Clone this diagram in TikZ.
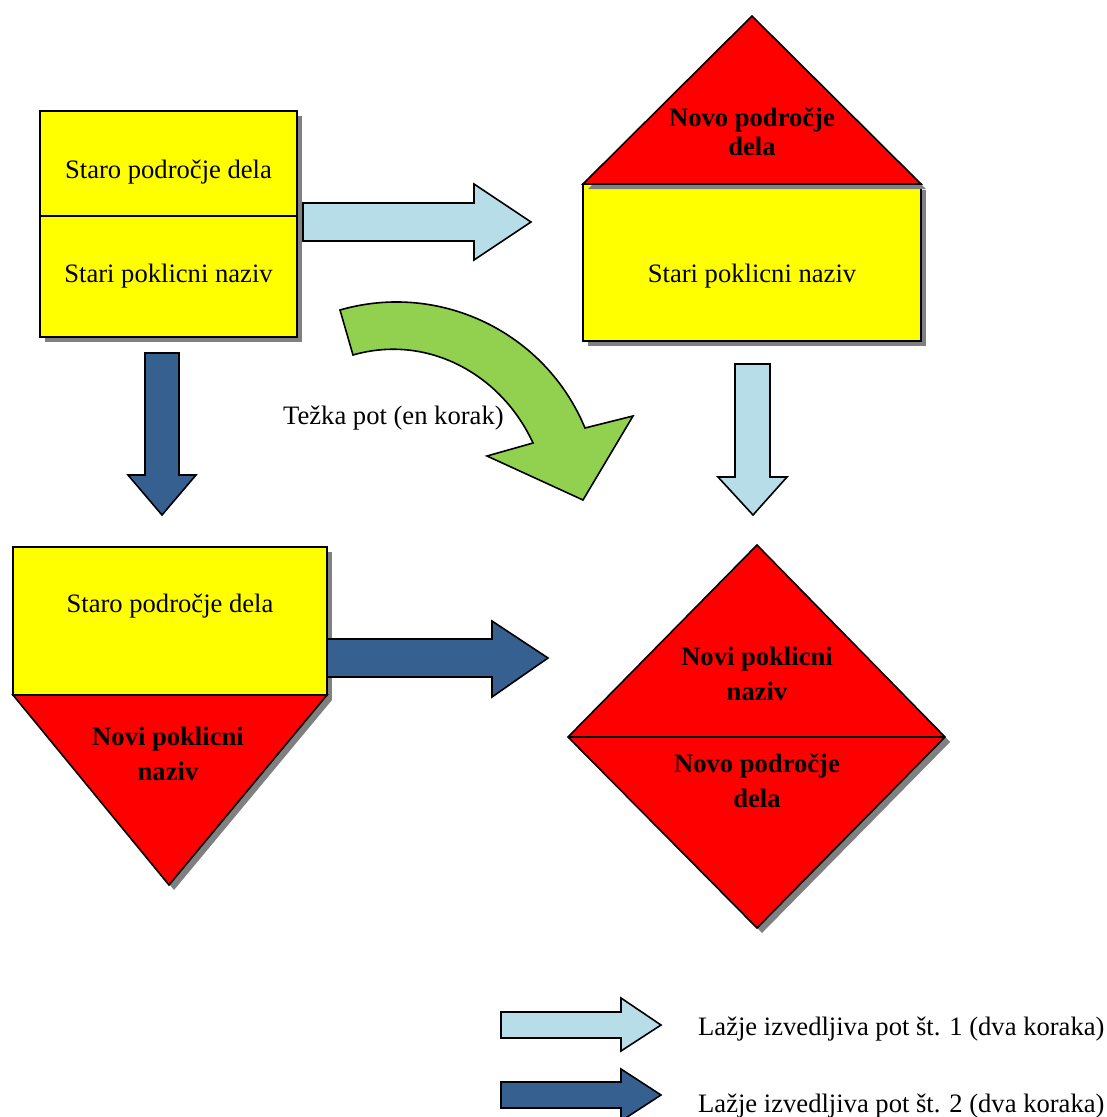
\documentclass[tikz,border=0pt]{standalone}
\usepackage{fontspec}
\setmainfont{Liberation Serif}
\definecolor{ylw}{HTML}{FFFF00}
\definecolor{rd}{HTML}{FF0000}
\definecolor{lblue}{HTML}{B7DDE8}
\definecolor{dblue}{HTML}{36608F}
\definecolor{grn}{HTML}{92D050}
\definecolor{shadowgray}{HTML}{808080}
\begin{document}
\begin{tikzpicture}[x=1pt,y=-1pt,
  shapest/.style={draw=black,line width=1.6pt,line join=miter},
  arrowst/.style={draw=black,line width=1.6pt,line join=miter},
  shd/.style={fill=shadowgray},
  lbl/.style={anchor=base,inner sep=0pt,font=\fontsize{26.6}{30}\selectfont},
  blbl/.style={anchor=base,inner sep=0pt,font=\fontsize{26.6}{30}\selectfont\bfseries}]
\useasboundingbox (0,0) rectangle (1107,1117);
\fill[white] (0,0) rectangle (1107,1117);

% Box 1 (top left)
\fill[shd] (45,116) rectangle (302,342);
\draw[shapest,fill=ylw] (40,111) rectangle (297,337);
\draw[shapest] (40,216) -- (297,216);
\node[lbl] (b1a) at (168.5,178) {Staro področje dela};
\node[lbl] (b1b) at (168.5,282) {Stari poklicni naziv};

% light blue arrow right (top)
\draw[arrowst,fill=lblue] (303,203) -- (474,203) -- (474,184) -- (531,222) -- (474,260) -- (474,241) -- (303,241) -- cycle;

% Box 2 (top right)
\fill[shd] (588,190) rectangle (926,346);
\draw[shapest,fill=ylw] (583,184) rectangle (921,341);
\fill[shd] (757,21) -- (926,189) -- (588,189) -- cycle;
\draw[shapest,fill=rd] (752,16) -- (921,184) -- (583,184) -- cycle;
\node[blbl] (b2a) at (752,126) {Novo področje};
\node[blbl] (b2b) at (752,155) {dela};
\node[lbl] (b2c) at (752,282) {Stari poklicni naziv};

% dark blue arrow down (left)
\draw[arrowst,fill=dblue] (145,353) -- (179,353) -- (179,475) -- (196,475) -- (162,515) -- (128,475) -- (145,475) -- cycle;

% light blue arrow down (right)
\draw[arrowst,fill=lblue] (735,364) -- (770,364) -- (770,477) -- (787,477) -- (753,515) -- (718,477) -- (735,477) -- cycle;

% green curved arrow
\draw[arrowst,fill=grn] (340,310) .. controls (439.7,281.2) and (545.2,332.1) .. (585,428)
  -- (633,416) -- (583,500) -- (487,456) -- (533,443)
  .. controls (501,373.4) and (426.6,333.7) .. (353,355) -- cycle;
\node[lbl,anchor=base west] (tp) at (283,424) {Težka pot (en korak)};

% Box 3 (bottom left)
\fill[shd] (18,552) rectangle (332,700);
\draw[shapest,fill=ylw] (13,547) rectangle (327,695);
\fill[shd] (18,700) -- (332,700) -- (174,890) -- cycle;
\draw[shapest,fill=rd] (13,695) -- (327,695) -- (169,885) -- cycle;
\node[lbl] (b3a) at (170,612) {Staro področje dela};
\node[blbl] (b3b) at (168,745) {Novi poklicni};
\node[blbl] (b3c) at (168,780) {naziv};

% dark blue arrow right (middle)
\draw[arrowst,fill=dblue] (327,639) -- (492,639) -- (492,621) -- (548,658) -- (492,697) -- (492,677) -- (327,677) -- cycle;

% Diamond
\fill[shd] (762,550) -- (950,742) -- (762,933) -- (573,742) -- cycle;
\draw[shapest,fill=rd] (757,545) -- (945,737) -- (757,928) -- (568,737) -- cycle;
\draw[shapest] (568,737) -- (945,737);
\node[blbl] (d1) at (757,665) {Novi poklicni};
\node[blbl] (d2) at (757,700) {naziv};
\node[blbl] (d3) at (757,772) {Novo področje};
\node[blbl] (d4) at (757,807) {dela};

% Legend
\draw[arrowst,fill=lblue] (501,1012) -- (621,1012) -- (621,998) -- (661,1025) -- (621,1051) -- (621,1038) -- (501,1038) -- cycle;
\draw[arrowst,fill=dblue] (501,1082) -- (621,1082) -- (621,1069) -- (661,1095) -- (621,1121) -- (621,1108) -- (501,1108) -- cycle;
\node[lbl,anchor=base west] (l1) at (698,1035) {Lažje izvedljiva pot št. 1 (dva koraka)};
\node[lbl,anchor=base west] (l2) at (698,1112) {Lažje izvedljiva pot št. 2 (dva koraka)};
\end{tikzpicture}
\end{document}
